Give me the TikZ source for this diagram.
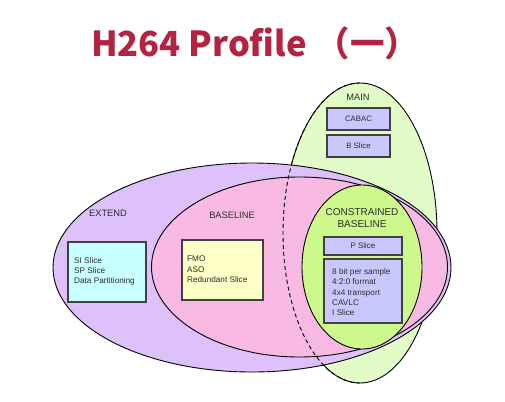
\documentclass[tikz,border=0pt]{standalone}
\usepackage{fontspec}
\setmainfont{Liberation Sans}
\newfontfamily\titlefont{Noto Sans CJK SC}
\usetikzlibrary{positioning}
\definecolor{mainfill}{RGB}{226,252,200}
\definecolor{extfill}{RGB}{222,192,250}
\definecolor{basefill}{RGB}{248,186,226}
\definecolor{consfill}{RGB}{204,248,140}
\definecolor{lav}{RGB}{200,200,255}
\definecolor{cyanbox}{RGB}{200,255,255}
\definecolor{yelbox}{RGB}{255,255,200}
\definecolor{titlered}{RGB}{178,36,66}
\definecolor{txt}{RGB}{45,45,45}
\tikzset{
  outline/.style={draw=black, line width=0.9pt},
  boxstyle/.style={draw=black!75, line width=1.1pt, inner sep=0pt, outer sep=0pt},
  lbl/.style={text=txt, font=\fontsize{9.3}{11.7}\selectfont, align=center, inner sep=0pt},
  boxtext/.style={text=txt, font=\fontsize{8.2}{10.3}\selectfont, align=left, inner sep=0pt, anchor=north west},
}
\begin{document}
\begin{tikzpicture}[x=1pt,y=-1pt]
\useasboundingbox (0,0) rectangle (505,401);
\fill[white] (0,0) rectangle (505,401);
% title
\node[anchor=base west, inner sep=0pt, text=titlered, font=\titlefont\bfseries\fontsize{34.5}{35}\selectfont] (title) at (91,57) {H264 Profile\hspace{9pt}（一）};
% MAIN ellipse
\path[fill=mainfill, outline] (360,233) ellipse [x radius=77, y radius=150];
% EXTEND
\path[fill=extfill, outline] (252,267.5) ellipse [x radius=199, y radius=104.5];
% BASELINE
\path[fill=basefill, outline] (299.5,267) ellipse [x radius=148, y radius=90];
% dashed part of MAIN
\begin{scope}
\clip (0,0) rectangle (360,401);
\draw[line width=0.9pt, dash pattern=on 4pt off 3pt] (360,233) ellipse [x radius=77, y radius=150];
\end{scope}
% CONSTRAINED BASELINE
\path[fill=consfill, outline] (362,267) ellipse [x radius=60, y radius=82];
% labels
\node[lbl] (lmain) at (358,97) {MAIN};
\node[lbl] (lext) at (108,213) {EXTEND};
\node[lbl] (lbase) at (232,215) {BASELINE};
\node[lbl, font=\fontsize{10}{12}\selectfont] (lcons) at (362,218) {CONSTRAINED\\BASELINE};
% boxes
\node[boxstyle, fill=lav, minimum width=63pt, minimum height=22pt, text=txt, font=\fontsize{7.8}{10}\selectfont] (cabac) at (358.5,119) {CABAC};
\node[boxstyle, fill=lav, minimum width=63pt, minimum height=22pt, text=txt, font=\fontsize{7.8}{10}\selectfont] (bslice) at (358.5,146) {B Slice};
\node[boxstyle, fill=lav, minimum width=78pt, minimum height=18pt, text=txt, font=\fontsize{8}{10}\selectfont] (pslice) at (363,246) {P Slice};
\node[boxstyle, fill=lav, minimum width=78pt, minimum height=64pt] (big) at (363,291) {};
\node[boxtext] (bigt) at (332,268.5) {8 bit per sample\\4:2:0 format\\4x4 transport\\CAVLC\\I Slice};
\node[boxstyle, fill=cyanbox, minimum width=78pt, minimum height=60pt] (si) at (107,272) {};
\node[boxtext] (sit) at (74,257) {SI Slice\\SP Slice\\Data Partitioning};
\node[boxstyle, fill=yelbox, minimum width=81pt, minimum height=60pt] (fmo) at (222.5,270) {};
\node[boxtext] (fmot) at (187,256) {FMO\\ASO\\Redundant Slice};
\end{tikzpicture}
\end{document}
